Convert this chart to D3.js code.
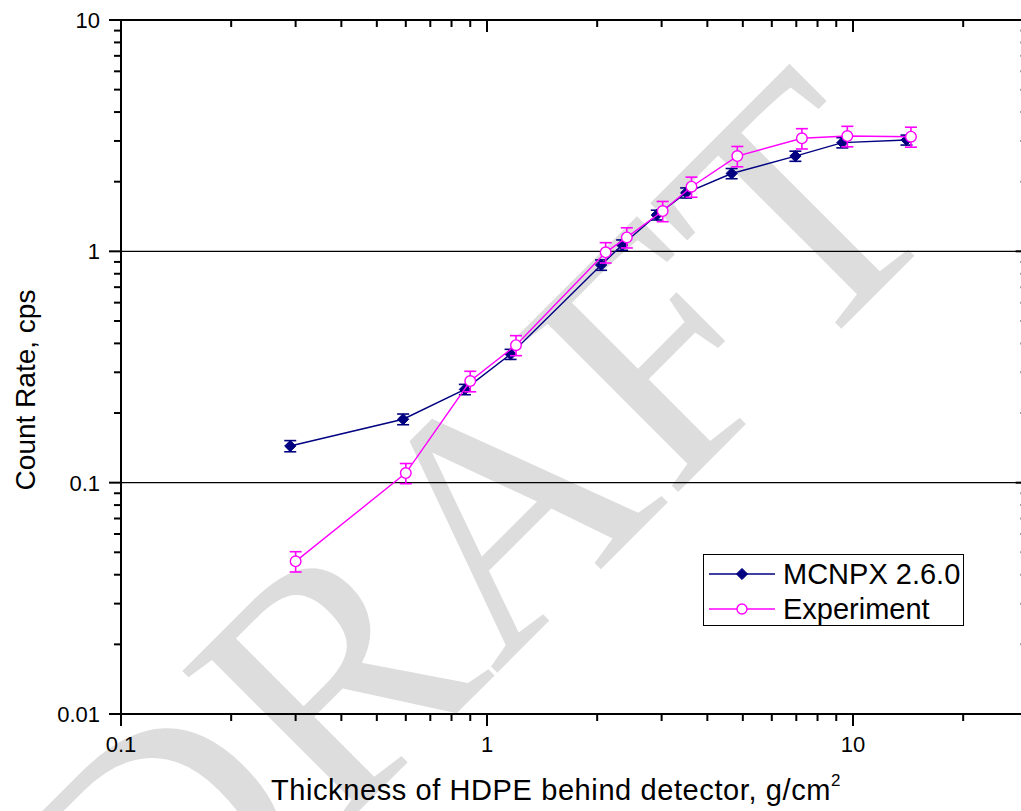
<!DOCTYPE html>
<html>
<head>
<meta charset="utf-8">
<script src="https://cdn.jsdelivr.net/npm/d3@7"></script>
<style>
  html, body { margin: 0; padding: 0; background: #fff; }
  svg { display: block; font-family: Arial, "Liberation Sans", Helvetica, sans-serif; }
</style>
</head>
<body>
<svg id="chart" width="1021" height="811"></svg>
<script>
// ---- data ----
const mcnpxX   = [0.29, 0.59, 0.87, 1.16, 2.05, 2.34, 2.91, 3.50, 4.66, 6.96, 9.35, 14.0];
const mcnpxY   = [0.144, 0.188, 0.253, 0.359, 0.873, 1.065, 1.436, 1.79, 2.17, 2.58, 2.95, 3.03];
const mcnpxErr = [0.008, 0.010, 0.013, 0.018, 0.045, 0.055, 0.07, 0.09, 0.11, 0.13, 0.15, 0.15];

const expX   = [0.30, 0.60, 0.90, 1.20, 2.11, 2.41, 3.02, 3.62, 4.83, 7.25, 9.65, 14.4];
const expY   = [0.0457, 0.110, 0.275, 0.393, 0.990, 1.149, 1.493, 1.903, 2.58, 3.08, 3.15, 3.13];
const expErr = [0.0046, 0.011, 0.028, 0.039, 0.10, 0.115, 0.15, 0.19, 0.26, 0.31, 0.32, 0.31];

const xDomain = [0.1, 30];
const yDomain = [0.01, 10];
const xTickLabels = [0.1, 1, 10];
const yTickLabels = [0.01, 0.1, 1, 10];
const gridValues = [0.1, 1];
const seriesNames = ["MCNPX 2.6.0", "Experiment"];
const xTitle = "Thickness of HDPE behind detector, g/cm";
const yTitle = "Count Rate, cps";
const watermark = "DRAFT";

// ---- layout ----
const L = 121, T = 20, B = 714;
const x = d3.scaleLog().domain(xDomain).range([L, 121 + Math.log10(300) * 366]);
const y = d3.scaleLog().domain(yDomain).range([B, T]);
const R = x(xDomain[1]);

const svg = d3.select("#chart");
const blue = "#000080", mag = "#ff00ff";

// watermark (behind everything)
svg.append("text")
  .attr("transform", "translate(159,1011) rotate(-45)")
  .attr("text-anchor", "start")
  .style("font-size", "342px")
  .style("font-family", "'Times New Roman', 'Liberation Serif', serif")
  .attr("fill", "#dddddd")
  .text(watermark);

// gridlines
svg.append("g").selectAll("line").data(gridValues).join("line")
  .attr("x1", L).attr("x2", R)
  .attr("y1", d => y(d)).attr("y2", d => y(d))
  .attr("stroke", "#000").attr("stroke-width", 1.2);

function minorTicks(scale) {
  const [a, b] = scale.domain();
  const out = [];
  for (let e = Math.floor(Math.log10(a)); e <= Math.ceil(Math.log10(b)); e++) {
    for (let m = 1; m <= 9; m++) {
      const v = m * Math.pow(10, e);
      if (v >= a * 0.999 && v <= b * 1.001) out.push(v);
    }
  }
  return out;
}
const isMajor = v => Math.abs(Math.log10(v) - Math.round(Math.log10(v))) < 1e-6;

const xt = minorTicks(x), yt = minorTicks(y);
const ax = svg.append("g").attr("stroke", "#000");
ax.selectAll(".bt").data(xt).join("line")
  .attr("x1", d => x(d)).attr("x2", d => x(d))
  .attr("y1", B).attr("y2", d => B + (isMajor(d) ? 12 : 7)).attr("stroke-width", 2);
ax.selectAll(".tt").data(xt).join("line")
  .attr("x1", d => x(d)).attr("x2", d => x(d))
  .attr("y1", T).attr("y2", d => T + (isMajor(d) ? 12 : 7)).attr("stroke-width", 2);
ax.selectAll(".lt").data(yt).join("line")
  .attr("y1", d => y(d)).attr("y2", d => y(d))
  .attr("x1", L).attr("x2", d => L - (isMajor(d) ? 12 : 7)).attr("stroke-width", 2);
ax.selectAll(".rt").data(yt).join("line")
  .attr("y1", d => y(d)).attr("y2", d => y(d))
  .attr("x1", R).attr("x2", d => R - (isMajor(d) ? 12 : 7)).attr("stroke-width", 2);
ax.append("rect").attr("x", L).attr("y", T).attr("width", R - L).attr("height", B - T)
  .attr("fill", "none").attr("stroke-width", 2);

// tick labels
svg.append("g").selectAll("text").data(xTickLabels).join("text")
  .attr("x", d => x(d)).attr("y", 752)
  .attr("text-anchor", "middle").style("font-size", "22px").text(d => d);
svg.append("g").selectAll("text").data(yTickLabels).join("text")
  .attr("x", 100).attr("y", d => y(d) + 8)
  .attr("text-anchor", "end").style("font-size", "22px").text(d => d);

// titles
const xt2 = svg.append("text").attr("x", 556).attr("y", 800).attr("text-anchor", "middle")
  .style("font-size", "29px").style("letter-spacing", "0.6px");
xt2.append("tspan").text(xTitle);
xt2.append("tspan").attr("dy", -14).style("font-size", "17px").text("2");
svg.append("text").attr("transform", "translate(35,390) rotate(-90)")
  .attr("text-anchor", "middle").style("font-size", "28px").text(yTitle);

// series
function drawSeries(xs, ys, es, color, kind) {
  const pts = xs.map((v, i) => ({ x: v, y: ys[i], e: es[i] }));
  const g = svg.append("g");
  g.append("path").datum(pts)
    .attr("d", d3.line().x(d => x(d.x)).y(d => y(d.y)))
    .attr("fill", "none").attr("stroke", color).attr("stroke-width", 1.4);
  const eb = g.append("g").attr("stroke", color).attr("stroke-width", 1.6);
  pts.forEach(p => {
    const cx = x(p.x), y1 = y(p.y + p.e), y0 = y(p.y - p.e);
    eb.append("line").attr("x1", cx).attr("x2", cx).attr("y1", y1).attr("y2", y0);
    eb.append("line").attr("x1", cx - 6).attr("x2", cx + 6).attr("y1", y1).attr("y2", y1);
    eb.append("line").attr("x1", cx - 6).attr("x2", cx + 6).attr("y1", y0).attr("y2", y0);
  });
  if (kind === "diamond") {
    g.selectAll(".m").data(pts).join("path")
      .attr("d", d3.symbol().type(d3.symbolDiamond2).size(80))
      .attr("transform", d => `translate(${x(d.x)},${y(d.y)})`)
      .attr("fill", color).attr("stroke", color).attr("stroke-width", 1);
  } else {
    g.selectAll(".m").data(pts).join("circle")
      .attr("cx", d => x(d.x)).attr("cy", d => y(d.y)).attr("r", 5.3)
      .attr("fill", "#fff").attr("stroke", color).attr("stroke-width", 1.4);
  }
}
drawSeries(mcnpxX, mcnpxY, mcnpxErr, blue, "diamond");
drawSeries(expX, expY, expErr, mag, "circle");

// legend
const lg = svg.append("g");
lg.append("rect").attr("x", 703.5).attr("y", 554.5).attr("width", 260).attr("height", 71)
  .attr("fill", "#fff").attr("stroke", "#000").attr("stroke-width", 1);
const rows = [{ c: blue, k: "diamond", yy: 574 }, { c: mag, k: "circle", yy: 609 }];
rows.forEach((r, i) => {
  lg.append("line").attr("x1", 709).attr("x2", 775).attr("y1", r.yy).attr("y2", r.yy)
    .attr("stroke", r.c).attr("stroke-width", 1.4);
  if (r.k === "diamond") {
    lg.append("path").attr("d", d3.symbol().type(d3.symbolDiamond2).size(80))
      .attr("transform", `translate(742,${r.yy})`).attr("fill", r.c).attr("stroke", r.c);
  } else {
    lg.append("circle").attr("cx", 742).attr("cy", r.yy).attr("r", 5)
      .attr("fill", "#fff").attr("stroke", r.c).attr("stroke-width", 1.4);
  }
  lg.append("text").attr("x", 783).attr("y", r.yy + 10).style("font-size", "29px").text(seriesNames[i]);
});
</script>
</body>
</html>
